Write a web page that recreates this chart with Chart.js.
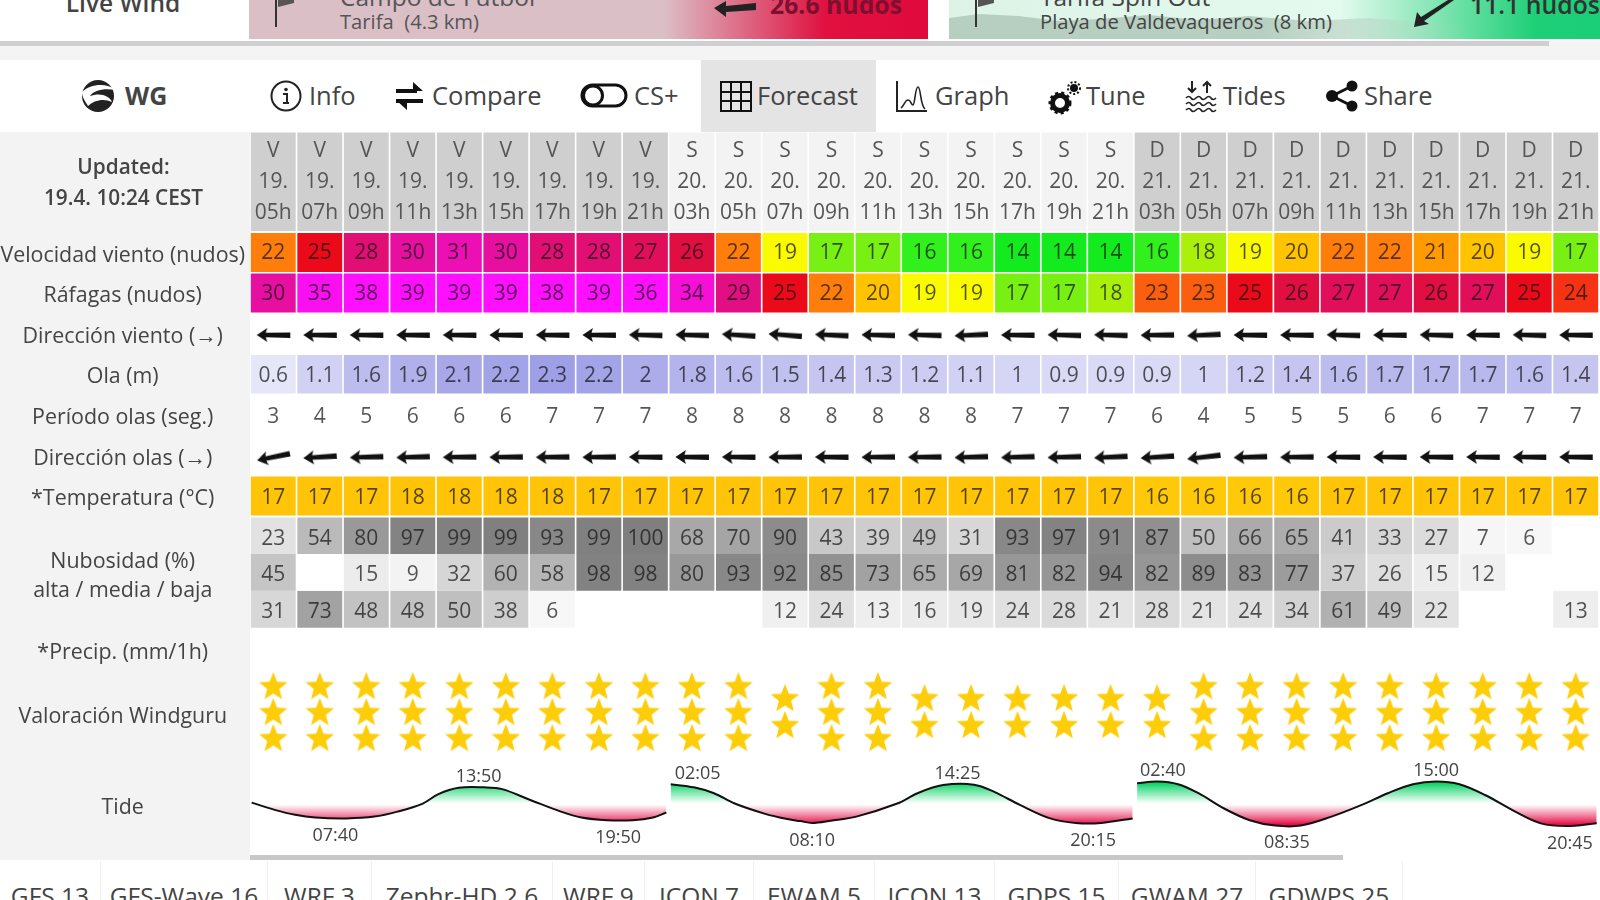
<!DOCTYPE html>
<html lang="es"><head><meta charset="utf-8"><title>Windguru forecast</title>
<script src="https://cdn.jsdelivr.net/npm/chart.js@4/dist/chart.umd.min.js"></script>
<style>
html,body{margin:0;padding:0;width:1600px;height:900px;overflow:hidden;background:#fff;font-family:"Open Sans",sans-serif;color:#444}
body{filter:blur(.4px)}
.abs{position:absolute;white-space:nowrap}
#sidebar{position:absolute;left:0;top:132px;width:250px;height:728px;background:#f3f3f3}
#chart{position:absolute;left:0;top:132px;z-index:2}
.nav{font-size:25.5px;top:77px;line-height:36px;color:#444}
.tab{position:absolute;top:861px;height:39px;border-right:1px solid #f0f0f0;text-align:center;font-size:24.5px;line-height:70px;color:#444;overflow:hidden;box-sizing:border-box}
svg{position:absolute;overflow:visible}
</style></head><body>
<!-- top strip -->
<div class="abs" style="left:58px;top:-11px;width:130px;text-align:center;font-weight:600;font-size:24.5px;line-height:28px">Live Wind</div>
<div class="abs" style="left:249px;top:0;width:679px;height:39px;background:linear-gradient(90deg,#dbbfc7 0,#dbbfc7 61%,#e0103f 85%,#e00a3c 100%)"></div>
<svg style="left:272px;top:0" width="40" height="30"><path d="M4 0V27" stroke="#333" stroke-width="2"/><path d="M6 0h16v3l-16 4z" fill="#555"/></svg>
<div class="abs" style="left:340px;top:-17px;font-size:24.5px;line-height:28px;color:#555">Campo de Futbol</div>
<div class="abs" style="left:340px;top:8px;font-size:20.2px;line-height:26px;color:#555">Tarifa&nbsp; (4.3 km)</div>
<svg style="left:712px;top:-1px" width="54" height="22"><path d="M2 9l12-7v5l30-3v7l-30 2v5z" fill="#222"/></svg>
<div class="abs" style="left:770px;top:-11px;font-size:24.8px;line-height:30px;font-weight:700;color:#7d1030">26.6 nudos</div>
<div class="abs" style="left:949px;top:0;width:651px;height:39px;background:linear-gradient(90deg,#dcf3e6 0,#e4faef 60%,#7be4ae 76%,#1fcf78 90%,#19cf78 100%)"></div>
<svg style="left:949px;top:10px" width="651" height="29"><defs><linearGradient id="fade" x1="0" x2="1" y1="0" y2="0"><stop offset="0" stop-color="#b7cfc1"/><stop offset=".6" stop-color="#b7cfc1"/><stop offset="1" stop-color="#b7cfc1" stop-opacity="0"/></linearGradient></defs><path d="M0 8L30 4 70 6 110 11 150 9 200 5 250 10 300 6 360 11 420 8 470 12 520 14V29H0z" fill="url(#fade)"/></svg>
<svg style="left:972px;top:0" width="40" height="30"><path d="M4 0V27" stroke="#333" stroke-width="2"/><path d="M6 0h16v3l-16 4z" fill="#555"/></svg>
<div class="abs" style="left:1040px;top:-17px;font-size:24.5px;line-height:28px;color:#444">Tarifa Spin Out</div>
<div class="abs" style="left:1040px;top:8px;font-size:20.2px;line-height:26px;color:#444">Playa de Valdevaqueros&nbsp; (8 km)</div>
<svg style="left:1412px;top:0" width="50" height="30"><path d="M2 27l3-15 4 5L36 0h6L12 21l5 3z" fill="#222"/></svg>
<div class="abs" style="left:1470px;top:-11px;font-size:24.8px;line-height:30px;font-weight:600;color:#333">11.1 nudos</div>
<div class="abs" style="left:0;top:41px;width:1600px;height:19px;background:#f4f4f4"></div>
<div class="abs" style="left:0;top:41px;width:1549px;height:5px;background:#cfcfcf"></div>
<!-- nav -->
<div class="abs" style="left:701px;top:60px;width:175px;height:72px;background:#e4e4e4"></div>
<svg style="left:80px;top:78px" width="36" height="36"><circle cx="18" cy="18" r="16" fill="#222"/><path d="M2 14C10 6 26 4 36 12 24 10 14 12 10 18 20 14 30 18 32 24 24 20 14 22 8 28 6 24 2 20 2 14z" fill="#fff"/></svg>
<div class="abs nav" style="left:125px;font-weight:700;font-size:25px">WG</div>
<svg style="left:270px;top:80px" width="32" height="32"><circle cx="16" cy="16" r="14.5" fill="none" stroke="#222" stroke-width="2"/><path d="M13 14h4v9h2M13 23h6" fill="none" stroke="#222" stroke-width="2"/><circle cx="16" cy="9.5" r="1.8" fill="#222"/></svg>
<div class="abs nav" style="left:309px">Info</div>
<svg style="left:395px;top:80px" width="30" height="32"><path d="M1 11h21M1 21h27" stroke="#111" stroke-width="4"/><path d="M18 2l10 9-10 0zM12 30L2 21h10z" fill="#111"/></svg>
<div class="abs nav" style="left:432px">Compare</div>
<svg style="left:580px;top:83px" width="48" height="26"><rect x="2" y="2" width="44" height="21" rx="10.5" fill="none" stroke="#111" stroke-width="3"/><circle cx="13" cy="12.5" r="9.5" fill="none" stroke="#111" stroke-width="3"/></svg>
<div class="abs nav" style="left:634px">CS+</div>
<svg style="left:720px;top:81px" width="32" height="31"><path d="M1 1h30v29H1zM11 1v29M21 1v29M1 11h30M1 20h30" fill="none" stroke="#111" stroke-width="2"/></svg>
<div class="abs nav" style="left:757px">Forecast</div>
<svg style="left:896px;top:81px" width="32" height="32"><path d="M1 0V30H31" fill="none" stroke="#222" stroke-width="2"/><path d="M5 27c3-2 4-8 7-8s3 5 5 5 2-18 5-18 2 18 7 22" fill="none" stroke="#222" stroke-width="1.6"/></svg>
<div class="abs nav" style="left:935px">Graph</div>
<svg style="left:1049px;top:81px" width="32" height="34"><circle cx="11" cy="22" r="7.5" fill="none" stroke="#111" stroke-width="5"/><circle cx="11" cy="22" r="10" fill="none" stroke="#111" stroke-width="3" stroke-dasharray="3 3"/><circle cx="25" cy="7" r="4" fill="#111"/><circle cx="25" cy="7" r="6" fill="none" stroke="#111" stroke-width="2" stroke-dasharray="2 2"/></svg>
<div class="abs nav" style="left:1086px">Tune</div>
<svg style="left:1185px;top:80px" width="32" height="34"><path d="M7 1v11M3 8l4 4 4-4M22 13V2M18 6l4-4 4 4" fill="none" stroke="#222" stroke-width="2"/><path d="M1 18q3-3 5 0t5 0 5 0 5 0 5 0 5 0M1 24q3-3 5 0t5 0 5 0 5 0 5 0 5 0M1 30q3-3 5 0t5 0 5 0 5 0 5 0 5 0" fill="none" stroke="#222" stroke-width="1.7"/></svg>
<div class="abs nav" style="left:1223px">Tides</div>
<svg style="left:1326px;top:80px" width="32" height="32"><path d="M6 16L26 6M6 16l20 10" stroke="#111" stroke-width="3"/><circle cx="6" cy="16" r="6" fill="#111"/><circle cx="26" cy="6" r="5.5" fill="#111"/><circle cx="26" cy="26" r="5.5" fill="#111"/></svg>
<div class="abs nav" style="left:1364px">Share</div>
<!-- table side -->
<div id="sidebar"></div>
<div class="abs" style="left:0;top:151px;width:247px;text-align:center;font-weight:600;font-size:20.8px;line-height:31px;z-index:3">Updated:<br>19.4. 10:24 CEST</div>
<canvas id="chart" width="1600" height="728"></canvas>
<div class="abs" style="left:250px;top:855px;width:1093px;height:5px;background:#c8c8c8;z-index:3"></div>
<!-- model tabs -->
<div class="tab" style="left:0;width:101px">GFS 13</div>
<div class="tab" style="left:101px;width:167px">GFS-Wave 16</div>
<div class="tab" style="left:268px;width:104px">WRF 3</div>
<div class="tab" style="left:372px;width:181px">Zephr-HD 2.6</div>
<div class="tab" style="left:553px;width:92px">WRF 9</div>
<div class="tab" style="left:645px;width:109px">ICON 7</div>
<div class="tab" style="left:754px;width:121px">EWAM 5</div>
<div class="tab" style="left:875px;width:120px">ICON 13</div>
<div class="tab" style="left:995px;width:124px">GDPS 15</div>
<div class="tab" style="left:1119px;width:137px">GWAM 27</div>
<div class="tab" style="left:1256px;width:147px">GDWPS 25</div>
<script>
// ---------- data ----------
const dayNames = ['V','V','V','V','V','V','V','V','V','S','S','S','S','S','S','S','S','S','S','D','D','D','D','D','D','D','D','D','D'];
const dayNums  = ['19.','19.','19.','19.','19.','19.','19.','19.','19.','20.','20.','20.','20.','20.','20.','20.','20.','20.','20.','21.','21.','21.','21.','21.','21.','21.','21.','21.','21.'];
const hours    = ['05h','07h','09h','11h','13h','15h','17h','19h','21h','03h','05h','07h','09h','11h','13h','15h','17h','19h','21h','03h','05h','07h','09h','11h','13h','15h','17h','19h','21h'];
const windSpeed = [22,25,28,30,31,30,28,28,27,26,22,19,17,17,16,16,14,14,14,16,18,19,20,22,22,21,20,19,17];
const windGust  = [30,35,38,39,39,39,38,39,36,34,29,25,22,20,19,19,17,17,18,23,23,25,26,27,27,26,27,25,24];
const windDir   = [90,90,90,90,90,90,90,90,91,91,93,94,92,91,91,87,90,91,91,89,87,90,90,91,90,91,90,91,90];
const waveHeight= [0.6,1.1,1.6,1.9,2.1,2.2,2.3,2.2,2,1.8,1.6,1.5,1.4,1.3,1.2,1.1,1,0.9,0.9,0.9,1,1.2,1.4,1.6,1.7,1.7,1.7,1.6,1.4];
const wavePeriod= [3,4,5,6,6,6,7,7,7,8,8,8,8,8,8,8,7,7,7,6,4,5,5,5,6,6,7,7,7];
const waveDir   = [78,86,88,88,89,89,89,89,90,90,90,89,90,89,89,88,88,88,87,86,83,88,89,90,90,90,90,90,90];
const temperature=[17,17,17,18,18,18,18,17,17,17,17,17,17,17,17,17,17,17,17,16,16,16,16,17,17,17,17,17,17];
const cloudHigh = [23,54,80,97,99,99,93,99,100,68,70,90,43,39,49,31,93,97,91,87,50,66,65,41,33,27,7,6,null];
const cloudMid  = [45,null,15,9,32,60,58,98,98,80,93,92,85,73,65,69,81,82,94,82,89,83,77,37,26,15,12,null,null];
const cloudLow  = [31,73,48,48,50,38,6,null,null,null,null,12,24,13,16,19,24,28,21,28,21,24,34,61,49,22,null,null,13];
const starRating= [3,3,3,3,3,3,3,3,3,3,3,2,3,3,2,2,2,2,2,2,3,3,3,3,3,3,3,3,3];
const rowTitles = ['Velocidad viento (nudos)','Ráfagas (nudos)','Dirección viento (→)','Ola (m)','Período olas (seg.)','Dirección olas (→)','*Temperatura (°C)',['Nubosidad (%)','alta / media / baja'],'*Precip. (mm/1h)','Valoración Windguru','Tide'];
const tideDay1Hours = [4.07,5.06,5.94,6.81,8.14,9.35,10.34,11.43,12.1,12.97,14.07,14.84,16.05,17.37,18.25,19.35,20.45,21.33,21.9];
const tideDay1Level = [.83,.67,.56,.50,.48,.52,.63,.81,1.02,1.16,1.17,1.13,.89,.63,.50,.44,.44,.50,.61];
const tideDay2Hours = [2.09,3.08,3.95,4.84,6.15,7.04,7.66,8.17,8.97,10.07,11.83,12.7,13.8,15.13,16.0,17.1,18.4,19.5,20.6,21.95];
const tideDay2Level = [1.24,1.17,1.04,.81,.58,.47,.42,.38,.43,.52,.81,1.04,1.22,1.23,1.07,.78,.48,.38,.38,.48];
const tideDay3Hours = [2.14,3.02,3.9,4.78,5.88,6.98,8.08,9.18,10.5,11.8,12.92,14.0,15.0,16.0,17.1,18.4,19.5,20.6,21.9];
const tideDay3Level = [1.26,1.30,1.24,1.04,.70,.44,.32,.32,.52,.78,1.04,1.24,1.30,1.24,1.0,.63,.37,.31,.37];
const tideTimes = ['07:40','13:50','19:50','02:05','08:10','14:25','20:15','02:40','08:35','15:00','20:45'];
const tideTimeHours = [7.67,13.83,19.83,2.08,8.17,14.42,20.25,2.67,8.58,15,20.75];
const tideTimeLevels = [.48,1.17,.44,1.24,.38,1.23,.38,1.30,.32,1.30,.31];
const tideTimeDay = [0,0,0,1,1,1,1,2,2,2,2];

// ---------- layout and style ----------
const bands = {header:[132.5,231],wind:[233,272],gust:[273.5,312.5],wave:[355,393.5],period:[397,435],temp:[476.5,515.5],high:[517.5,554],mid:[554,590.7],low:[590.7,627.7]};
const textShift = {wind:1,gust:1,wave:2,period:1,temp:2.5,high:3,mid:3,low:3};
const top0 = 132, areaTop = 233, areaBottom = 860;
const tideZero = 840, tidePx = 45, tideMid = .78;
const daySegs = [{col:0,h:4,end:9},{col:9,h:2,end:19},{col:19,h:2,end:29}];
const mid = b => (b[0]+b[1])/2;
const toCol = (d,h) => daySegs[d].col + (h-daySegs[d].h)/2;
const windStops = [[14,20,235,30],[15,35,238,30],[16,50,240,30],[17,120,240,20],[18,170,240,10],[19,250,250,0],[20,255,195,0],[21,255,155,0],[22,255,125,10],[23,250,95,15],[24,245,50,20],[25,235,10,25],[26,225,15,65],[27,225,15,90],[28,225,15,115],[29,225,15,130],[30,230,15,160],[31,235,15,180],[34,245,15,215],[35,250,15,240],[36,255,15,255],[40,255,15,255]];
function windColor(v){let s=windStops;for(let i=0;i<s.length-1;i++){if(v<=s[i+1][0]){let t=(v-s[i][0])/(s[i+1][0]-s[i][0]);t=Math.max(0,t);return `rgb(${[1,2,3].map(k=>Math.round(s[i][k]+(s[i+1][k]-s[i][k])*t)).join(',')})`}}return 'rgb(255,15,255)'}
const waveColor = v => {const t=v/2.4;return `rgb(${Math.round(255-100*t)},${Math.round(255-100*t)},${Math.round(255-25*t)})`};
const cloudColor = v => {if(v==null)return '#fff';const g=Math.round(255-1.28*v);return `rgb(${g},${g},${g})`};
const tempColor = v => v<=16?'#ffc90a':'#ffc308';

function arrowImage(){const c=document.createElement('canvas');c.width=36;c.height=18;const g=c.getContext('2d');g.fillStyle='#111';
  g.beginPath();g.moveTo(1.5,9);g.lineTo(12,2);g.lineTo(10.5,6.8);g.lineTo(35,6.4);g.lineTo(35,12);g.lineTo(10.5,11.2);g.lineTo(12,16);g.closePath();g.fill();return c}
function starImage(){const c=document.createElement('canvas');c.width=32;c.height=31;const g=c.getContext('2d');g.fillStyle='#fccd08';g.beginPath();
  for(let i=0;i<10;i++){const r=i%2?6.4:15,a=-Math.PI/2+i*Math.PI/5;const x=16+r*Math.cos(a),y=16.5+r*Math.sin(a);i?g.lineTo(x,y):g.moveTo(x,y)}g.closePath();g.fill();return c}
const arrow=arrowImage(), star=starImage();

const textColor='rgba(20,20,20,.72)';
function cellRow(key,values,color,fmt){return {type:'bar',label:key,grouped:false,barPercentage:.965,categoryPercentage:1,borderWidth:0,
  data:values.map(()=>bands[key]),backgroundColor:values.map(color),cellText:values.map(v=>v==null?'':(fmt?fmt(v):String(v))),yAxisID:'y',xAxisID:'x',order:5}}
function pointRow(key,y,img,rot){return {type:'line',label:key,showLine:false,data:y,pointStyle:img,pointRadius:10,pointHoverRadius:10,pointRotation:rot||0,yAxisID:'y',xAxisID:'x',order:1}}
function tideSet(d,hrs,lev){return {type:'line',label:'tide'+(d+1),data:hrs.map((h,i)=>({x:toCol(d,h),y:lev[i]})),xAxisID:'xt',yAxisID:'yt',parsing:false,
  borderColor:'#111',borderWidth:2,tension:.35,pointRadius:0,fill:{value:tideMid},order:2,
  backgroundColor:ctx=>{const ch=ctx.chart;if(!ch.chartArea)return 'transparent';const c=y=>ch.scales.yt.getPixelForValue(y);const g=ch.ctx.createLinearGradient(0,c(1.28),0,c(.32));
    g.addColorStop(0,'rgb(0,210,95)');g.addColorStop(.49,'rgba(255,255,255,.9)');g.addColorStop(.51,'rgba(255,255,255,.9)');g.addColorStop(1,'rgb(228,0,60)');return g}}}

const rowCenters=[mid(bands.wind)+3,mid(bands.gust)+3,337,mid(bands.wave)+3,418,459,mid(bands.temp)+3,576,653,716.5,808];
const starPos=(n,slot)=>n===3?[686,712,738][slot]:(slot===2?null:[698,725][slot]);

const cellLabels={id:'cellLabels',afterDatasetsDraw(ch){const g=ch.ctx;g.save();g.textAlign='center';g.textBaseline='middle';g.font='21px "Open Sans"';g.fillStyle=textColor;
  ch.data.datasets.forEach((ds,i)=>{if(!ds.cellText)return;const m=ch.getDatasetMeta(i);ds.cellText.forEach((t,k)=>{if(!t)return;const el=m.data[k];g.fillText(t,el.x,(el.y+el.base)/2+(textShift[ds.label]||1))})});
  g.font='18px "Open Sans"';g.fillStyle='#444';const xs=ch.scales.xt,ys=ch.scales.yt;
  tideTimes.forEach((t,i)=>{const d=tideTimeDay[i];let x=xs.getPixelForValue(toCol(d,tideTimeHours[i]));const ly=ys.getPixelForValue(tideTimeLevels[i]);const hi=tideTimeLevels[i]>.78;
    const l=xs.getPixelForValue(daySegs[d].col)+29,r=xs.getPixelForValue(daySegs[d].end)-25;x=Math.min(r,Math.max(l,x));g.fillText(t,x,ly+(hi?-10.5:17.5))});
  g.restore()}};

new Chart(document.getElementById('chart'),{
  data:{labels:hours,datasets:[
    Object.assign(cellRow('header',dayNames,d=>d==='S'?'#f3f3f3':'#cfcfcf'),{cellText:undefined,clip:false}),
    cellRow('wind',windSpeed,windColor),cellRow('gust',windGust,windColor),cellRow('wave',waveHeight,waveColor),
    cellRow('period',wavePeriod,()=>'#fff'),cellRow('temp',temperature,tempColor),
    cellRow('high',cloudHigh,cloudColor),cellRow('mid',cloudMid,cloudColor),cellRow('low',cloudLow,cloudColor),
    pointRow('wdir',windDir.map(()=>335),arrow,c=>windDir[c.dataIndex]-90),
    pointRow('wvdir',waveDir.map(()=>457),arrow,c=>waveDir[c.dataIndex]-90),
    pointRow('star1',starRating.map(n=>starPos(n,0)),star),pointRow('star2',starRating.map(n=>starPos(n,1)),star),pointRow('star3',starRating.map(n=>starPos(n,2)),star),
    tideSet(0,tideDay1Hours,tideDay1Level),tideSet(1,tideDay2Hours,tideDay2Level),tideSet(2,tideDay3Hours,tideDay3Level)
  ]},
  plugins:[cellLabels],
  options:{responsive:false,animation:false,devicePixelRatio:1,layout:{autoPadding:false,padding:{top:0,left:0,right:1,bottom:0}},
    plugins:{legend:{display:false},tooltip:{enabled:false}},events:[],
    scales:{
      x:{type:'category',position:'top',offset:true,grid:{display:false,drawTicks:false},border:{display:false},
        afterFit:s=>{s.height=areaTop-top0;s.paddingLeft=0;s.paddingRight=0},
        ticks:{z:1,autoSkip:false,maxRotation:0,minRotation:0,padding:4,color:'#555',font:{family:'"Open Sans"',size:21,lineHeight:'31px'},
          callback:(v,i)=>[dayNames[i],dayNums[i],hours[i]]}},
      xt:{type:'linear',display:false,min:0,max:29},
      y:{type:'linear',position:'left',reverse:true,min:areaTop,max:areaBottom,grid:{display:false,drawTicks:false},border:{display:false},
        afterFit:s=>{s.width=250;s.paddingTop=0;s.paddingBottom=0},
        afterBuildTicks:s=>{s.ticks=rowCenters.map(v=>({value:v}))},
        ticks:{z:1,autoSkip:false,crossAlign:'center',padding:5,color:'#444',font:{family:'"Open Sans"',size:21.4,lineHeight:'29px'},
          callback:v=>rowTitles[rowCenters.indexOf(v)]}},
      yt:{type:'linear',display:false,min:(tideZero-areaBottom)/tidePx,max:(tideZero-areaTop)/tidePx}
    }}
});
</script>
</body></html>
